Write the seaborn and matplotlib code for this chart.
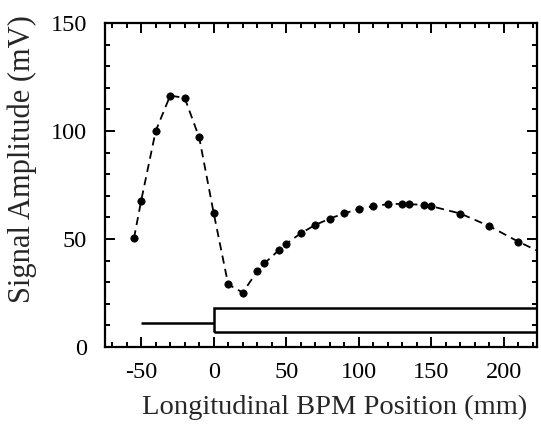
import matplotlib
matplotlib.use("Agg")
import matplotlib.pyplot as plt
import seaborn as sns
import pandas as pd
from matplotlib.ticker import MultipleLocator
from matplotlib.patches import Rectangle

# Data
position_mm = [-55, -50, -40, -30, -20, -10, 0, 10, 20, 30, 35, 45, 50, 60, 70, 80,
               90, 100, 110, 120, 130, 135, 145, 150, 170, 190, 210]
amplitude_mv = [50.3, 67.8, 100, 116.4, 115.3, 97, 62, 29, 25.2, 35, 38.7, 44.9, 47.8,
                52.6, 56.5, 59.4, 61.9, 63.8, 65.2, 66.1, 66.3, 66.1, 65.8, 65.2,
                61.8, 56, 48.8]
# dashed guide continues past the last measured point to the frame edge
tail_x = [225]
tail_y = [44]

x_ticks = [-50, 0, 50, 100, 150, 200]
y_ticks = [0, 50, 100, 150]

sns.set_style("ticks")
plt.rcParams['font.family'] = ['Liberation Serif', 'DejaVu Serif']

fig = plt.figure(figsize=(5.41, 4.24), dpi=100)
ax = fig.add_axes([0.194, 0.1816, 0.7986, 0.7642])

pts = pd.DataFrame({"x": position_mm, "y": amplitude_mv})
line_df = pd.DataFrame({"x": position_mm + tail_x, "y": amplitude_mv + tail_y})

sns.lineplot(data=line_df, x="x", y="y", ax=ax, sort=False, color="black",
             linestyle=(0, (4.5, 3)), linewidth=1.3, estimator=None)
sns.scatterplot(data=pts, x="x", y="y", ax=ax, color="black", s=28,
                edgecolor="black", linewidth=0.5, zorder=3)

# detector schematic: pipe line and box
ax.plot([-50, 0], [11, 11], color="black", linewidth=1.8, solid_capstyle="butt")
ax.add_patch(Rectangle((0, 7), 300, 11, fill=False, edgecolor="black", linewidth=1.8,
                       clip_on=True))

ax.set_xlim(-75, 223)
ax.set_ylim(0, 150)
ax.set_xticks(x_ticks)
ax.set_yticks(y_ticks)
ax.set_xticklabels([str(v) for v in x_ticks])
ax.set_yticklabels([str(v) for v in y_ticks])
ax.xaxis.set_minor_locator(MultipleLocator(10))
ax.yaxis.set_minor_locator(MultipleLocator(10))
ax.tick_params(which="both", direction="in", top=True, right=True, width=1.4,
               colors="black")
ax.tick_params(which="major", length=7, labelsize=17.5)
ax.tick_params(axis="x", which="major", pad=11)
ax.tick_params(axis="y", which="major", pad=13)
ax.tick_params(which="minor", length=3.6)
for s in ax.spines.values():
    s.set_visible(True)
    s.set_linewidth(1.6)
    s.set_color("black")

ax.set_xlabel("Longitudinal BPM Position (mm)", fontsize=20.5, labelpad=8, x=0.532)
ax.set_ylabel("Signal Amplitude (mV)", fontsize=22, labelpad=10, y=0.58)

fig.savefig("out.png", dpi=100)
